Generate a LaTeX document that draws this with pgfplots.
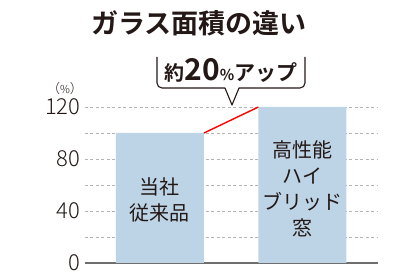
\documentclass[border=0pt]{standalone}
\usepackage{pgfplots}
\pgfplotsset{compat=1.18}
\usepackage{fontspec}
\setmainfont{Noto Sans CJK JP}
\newfontfamily\jpb{Noto Sans CJK JP Bold}
\newfontfamily\jpl{Noto Sans CJK JP Light}
\definecolor{txt}{HTML}{231815}
\definecolor{barblue}{HTML}{BDD4E7}
\definecolor{gridgray}{HTML}{B4B4B4}
\definecolor{axgray}{HTML}{6E6E6E}
\begin{document}
\begin{tikzpicture}[x=1pt,y=1pt]
\useasboundingbox (0,0) rectangle (408,280);
\begin{axis}[
  at={(85pt,17pt)}, anchor=south west,
  scale only axis, width=293pt, height=156pt,
  xmin=-0.526, xmax=1.53, ymin=0, ymax=120,
  clip=false,
  axis x line*=bottom, axis y line*=left,
  x axis line style={draw=axgray, line width=1.6pt, -},
  y axis line style={draw=none},
  xtick=\empty,
  ytick={0,40,80,120}, minor ytick={20,60,100,120},
  major tick length=0pt, minor tick length=0pt,
  ymajorgrids=false, yminorgrids=true,
  minor grid style={gridgray, dash pattern=on 3pt off 2.5pt, line width=0.8pt},
  extra y ticks={40,80}, extra y tick labels={},
  extra y tick style={grid=major, major grid style={gridgray, dash pattern=on 3pt off 2.5pt, line width=0.8pt}},
  yticklabel style={font=\jpl\fontsize{22}{22}\selectfont, text=txt, xshift=-1pt},
  /pgf/number format/assume math mode=true,
]
\addplot[ybar, bar width=0.6175, fill=barblue, draw=none] coordinates {(0,100) (1,120)};
\addplot[red, line width=1.4pt] coordinates {(0.309,100) (0.691,120)};
\node[font=\fontsize{20}{26}\selectfont, text=txt, align=center] at (axis cs:0,48.5) {当社\\従来品};
\node[font=\fontsize{20}{26}\selectfont, text=txt, align=center] at (axis cs:1,57) {高性能\\ハイ\\ブリッド\\窓};
\end{axis}
\node[text=txt] at (65,191) {\jpl\fontsize{13}{13}\selectfont （\fontsize{11}{11}\selectfont\%\fontsize{13}{13}\selectfont ）};
\node[font=\jpb\fontsize{27}{27}\selectfont, text=txt] at (199,257) {ガラス面積の違い};
\draw[txt, line width=1.1pt, line join=round]
  (157,223) -- (157,197) arc[start angle=180, end angle=270, radius=5] -- (225,192) -- (232,175) -- (239,192) -- (300,192) arc[start angle=270, end angle=360, radius=5] -- (305,223);
\node[text=txt, anchor=base] at (231,199) {\jpb\fontsize{20}{20}\selectfont 約\fontsize{30}{30}\selectfont 20\fontsize{15}{15}\selectfont\%\fontsize{21}{21}\selectfont アップ};
\end{tikzpicture}
\end{document}
